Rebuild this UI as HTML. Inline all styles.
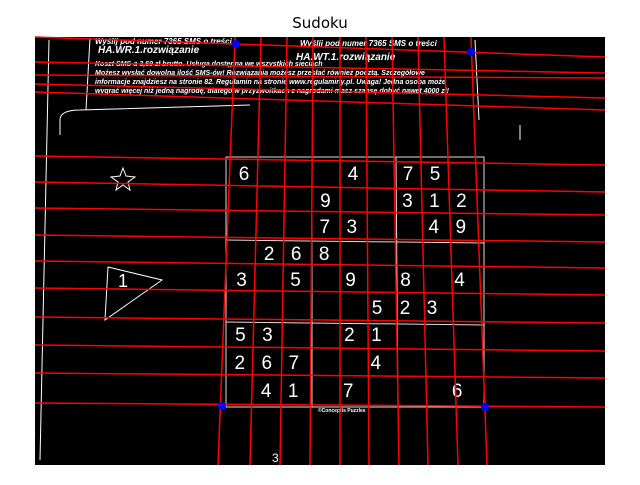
<!DOCTYPE html>
<html><head><meta charset="utf-8"><style>
body{margin:0;background:#fff;width:640px;height:480px;overflow:hidden;font-family:"Liberation Sans","DejaVu Sans",sans-serif}
</style></head><body>
<svg width="640" height="480" xmlns="http://www.w3.org/2000/svg">
<text x="320" y="28" text-anchor="middle" font-size="15" font-family="DejaVu Sans, Liberation Sans, sans-serif">Sudoku</text>
<rect x="35" y="37" width="570" height="428" fill="#000"/>
<g id="deco" stroke="#fff" fill="none" stroke-width="1">
<line x1="49" y1="40" x2="40" y2="460"/>
<line x1="90" y1="38" x2="86" y2="110"/>
<line x1="475" y1="40" x2="479" y2="120"/>
<path d="M60 120 Q60 110 80 110 L250 105 M60 120 L60 135"/>
<path d="M520 125 L520 140"/>
<polygon points="108,267 162,280 105,320"/>
<polygon points="123,168 126,176 135,177 128,182 130,190 123,185 116,190 118,182 111,177 120,176"/>
<rect x="226" y="157" width="258" height="250" stroke="#ddd"/>
<line x1="312" y1="157" x2="312" y2="407" stroke="#ddd"/>
<line x1="396" y1="157" x2="398" y2="407" stroke="#ddd"/>
<line x1="226" y1="240" x2="484" y2="243" stroke="#ddd"/>
<line x1="226" y1="322" x2="484" y2="325" stroke="#ddd"/>
</g>
<g fill="#fff" font-weight="bold" font-style="italic" font-size="8">
<text x="95" y="44">Wyślij pod numer 7365 SMS o treści</text>
<text x="98" y="53" font-size="10">HA.WR.1.rozwiązanie</text>
<text x="300" y="46">Wyślij pod numer 7365 SMS o treści</text>
<text x="296" y="60" font-size="10">HA.WT.1.rozwiązanie</text>
<text x="95" y="66" font-size="7">Koszt SMS-a 3,69 zł brutto. Usługa dostępna we wszystkich sieciach</text>
<text x="95" y="75" font-size="7">Możesz wysłać dowolną ilość SMS-ów! Rozwiązania możesz przesłać również pocztą. Szczegółowe</text>
<text x="95" y="84" font-size="7">informacje znajdziesz na stronie 82. Regulamin na stronie www.regulaminy.pl. Uwaga! Jedna osoba może</text>
<text x="95" y="93" font-size="7">wygrać więcej niż jedną nagrodę, dlatego w przyzwoitkach z nagrodami masz szansę dobyć nawet 4000 zł!</text>
<text x="318" y="412" font-size="5" font-style="normal">©Conceptis Puzzles</text>
<text x="118" y="287" font-size="18" font-style="normal" font-weight="normal">1</text>
<text x="272" y="462" font-size="12" font-style="normal" font-weight="normal">3</text>
</g>
<g id="digits" fill="#fff" font-size="19" text-anchor="middle"></g>
<g id="hlines" stroke="#ff0000" stroke-width="1.5"></g>
<g id="vlines" stroke="#ff0000" stroke-width="1.5"></g>
<g id="corners" fill="#0000ff"></g>
</svg>
<script>
const grid = [
"6___4_75_",
"___9__312",
"___73__49",
"_268_____",
"3_5_9_8_4",
"_____523_",
"53__21___",
"267__4___",
"_41_7___6"];
const colX = [244,271,298,326,353,380,408,435,462];
const rowY = [173,200,226,253,279,307,334,362,390];
// horizontal lines: y at left edge (x=35) and right edge (x=605)
const hLeft  = [37,62,75,84,92,156,182,208,235,261,288,317,345,373,403];
const hRight = [57,73,78,98,110,165,192,215,242,268,295,323,351,378,407];
// vertical lines: x at top (y=37) and bottom (y=465)
const vTop    = [235,261,287,313,340,366,392,418,444,471];
const vBottom = [218,250,280,310,340,369,399,428,458,487];
const cornerX = [236,471,222,485];
const cornerY = [44,52,406,407];
const NS='http://www.w3.org/2000/svg';
const dg=document.getElementById('digits');
grid.forEach((row,r)=>{[...row].forEach((c,ci)=>{
  if(c==='_')return;
  const t=document.createElementNS(NS,'text');
  t.setAttribute('x',colX[ci]-r*0.6);
  t.setAttribute('y',rowY[r]+7);
  t.textContent=c;
  
  
  dg.appendChild(t);
});});
const hg=document.getElementById('hlines');
hLeft.forEach((y,i)=>{
  const l=document.createElementNS(NS,'line');
  l.setAttribute('x1',35);l.setAttribute('y1',y);l.setAttribute('x2',605);l.setAttribute('y2',hRight[i]);
  
  
  hg.appendChild(l);
});
const vg=document.getElementById('vlines');
vTop.forEach((x,i)=>{
  const l=document.createElementNS(NS,'line');
  l.setAttribute('x1',x);l.setAttribute('y1',37);l.setAttribute('x2',vBottom[i]);l.setAttribute('y2',465);
  
  
  vg.appendChild(l);
});
const cg=document.getElementById('corners');
cornerX.forEach((x,i)=>{
  const c=document.createElementNS(NS,'circle');
  c.setAttribute('cx',x);c.setAttribute('cy',cornerY[i]);c.setAttribute('r',4);
  
  
  cg.appendChild(c);
});
</script>
</body></html>
